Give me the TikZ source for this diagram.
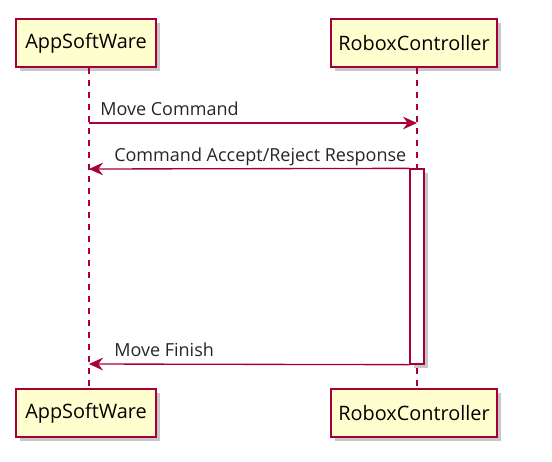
\documentclass[tikz,border=0pt]{standalone}
\usepackage{fontspec}
\setmainfont{Open Sans}
\usetikzlibrary{arrows.meta,shadows}
\definecolor{pumlred}{HTML}{A80036}
\definecolor{pumlfill}{HTML}{FEFECE}
\tikzset{
  participant/.style={draw=pumlred, line width=1.6pt, fill=pumlfill, minimum height=36pt, inner sep=0pt, font=\fontsize{14.9}{17}\selectfont,
    drop shadow={shadow xshift=3pt, shadow yshift=-3pt, fill=black, opacity=0.22}},
  lifeline/.style={draw=pumlred, line width=1pt, dash pattern=on 4.5pt off 4.5pt},
  activation/.style={draw=pumlred, line width=1pt, fill=white,
    drop shadow={shadow xshift=3pt, shadow yshift=-3pt, fill=black, opacity=0.22}},
  msg/.style={draw=pumlred, line width=1pt, -{Stealth[length=10.5pt, width=9.5pt, inset=3.5pt]}},
  msglabel/.style={anchor=base west, inner sep=0pt, text=black!85, font=\fontsize{13.5}{16}\selectfont}
}
\begin{document}
\begin{tikzpicture}[x=0.75pt,y=-0.75pt]
\useasboundingbox (0,0) rectangle (552,461);
% participants
\node[participant, minimum width=105pt] (a1) at (86,43) {AppSoftWare};
\node[participant, minimum width=124.5pt] (r1) at (414,43) {RoboxController};
\node[participant, minimum width=105pt] (a2) at (86,413) {AppSoftWare};
\node[participant, minimum width=124.5pt] (r2) at (414,413) {RoboxController};
% lifelines
\coordinate (aT) at (89,68);
\coordinate (aB) at (89,389);
\coordinate (rT) at (417,68);
\coordinate (rB) at (417,389);
\draw[lifeline] (aT) -- (aB);
\draw[lifeline] (rT) -- (rB);
% activation
\node[activation, minimum width=10.5pt, minimum height=146.25pt, inner sep=0pt] (act) at (417,266.5) {};
% messages
\coordinate (m1s) at (89,123);
\coordinate (m1e) at (417,123);
\coordinate (m2e) at (89,169);
\coordinate (m3e) at (89,364);
\draw[msg] (m1s) -- (m1e);
\draw[msg] (act.north west) -- (m2e);
\draw[msg] (act.south west) -- (m3e);
\node[msglabel] (l1) at (100,115) {Move Command};
\node[msglabel] (l2) at (114,161) {Command Accept/Reject Response};
\node[msglabel] (l3) at (114,356) {Move Finish};
\end{tikzpicture}
\end{document}
